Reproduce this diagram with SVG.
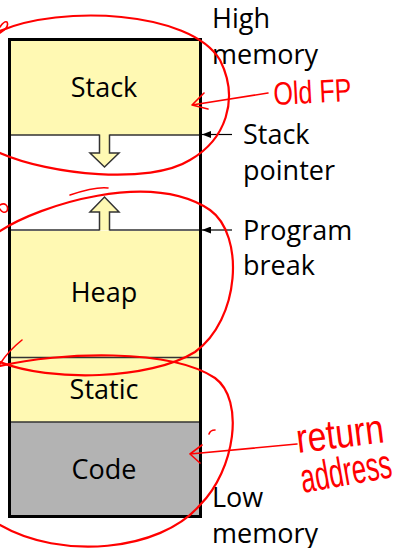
<svg xmlns="http://www.w3.org/2000/svg" width="400" height="548" viewBox="0 0 400 548">
  <style>
    .seg { stroke: none; }
    .yellow { fill: #FFF9B3; }
    .gray { fill: #B3B3B3; }
    .divider { fill: none; stroke: #333333; stroke-width: 1.5; }
    .growth { fill: #FFF9B3; stroke: #333333; stroke-width: 1.5; stroke-linejoin: miter; }
    .frame { fill: none; stroke: #000000; stroke-width: 3; }
    .lbl { font-family: "Open Sans", "Noto Sans", "DejaVu Sans", sans-serif; font-size: 27px; fill: #000000; }
    .mid { text-anchor: middle; }
    .ptr { stroke: #000000; stroke-width: 1.2; fill: none; }
    .ink { fill: none; stroke: #FF0000; stroke-width: 2.2; stroke-linecap: round; stroke-linejoin: round; }
    .ink-thin { fill: none; stroke: #FF0000; stroke-width: 1.6; stroke-linecap: round; stroke-linejoin: round; }
    .hand { font-family: "Liberation Sans", "DejaVu Sans", sans-serif; font-size: 18px; fill: #FF0000; }
  </style>
  <defs>
    <marker id="tip" markerUnits="userSpaceOnUse" markerWidth="9" markerHeight="7" refX="9" refY="3.5" orient="auto">
      <path d="M0,0 L9,3.5 L0,7 z" fill="#000000"/>
    </marker>
  </defs>

  <rect width="400" height="548" fill="#FFFFFF"/>

  <!-- memory segments -->
  <g id="stack">
    <rect class="seg yellow" x="9.5" y="39.5" width="191" height="95.5"/>
    <text class="lbl mid" x="104" y="97">Stack</text>
  </g>
  <g id="free">
    <rect class="seg" x="9.5" y="135" width="191" height="95" fill="#FFFFFF"/>
    <path class="divider" d="M9.5 135 H99.5 M109.5 135 H200.5"/>
    <path class="divider" d="M9.5 230 H99.5 M109.5 230 H200.5"/>
    <!-- stack grows down, heap grows up -->
    <path class="growth" d="M99.5 134.5 V153 H90 L104.5 167 L119 153 H109.5 V134.5"/>
    <path class="growth" d="M99.5 230.5 V212 H90 L104.5 197 L119 212 H109.5 V230.5"/>
  </g>
  <g id="heap">
    <rect class="seg yellow" x="9.5" y="231" width="191" height="126.5"/>
    <text class="lbl mid" x="104" y="301.5">Heap</text>
  </g>
  <g id="static">
    <rect class="seg yellow" x="9.5" y="357.5" width="191" height="64.5"/>
    <path class="divider" d="M9.5 357.5 H200.5"/>
    <text class="lbl mid" x="104" y="399">Static</text>
  </g>
  <g id="code">
    <rect class="seg gray" x="9.5" y="422" width="191" height="94.5"/>
    <path class="divider" d="M9.5 422 H200.5"/>
    <text class="lbl mid" x="104" y="479">Code</text>
  </g>
  <rect id="frame" class="frame" x="9.5" y="39.5" width="191" height="477"/>

  <!-- side labels -->
  <g id="high-memory">
    <text class="lbl" x="212" y="28">High</text>
    <text class="lbl" x="212" y="64">memory</text>
  </g>
  <g id="stack-pointer">
    <text class="lbl" x="243" y="144">Stack</text>
    <text class="lbl" x="243" y="180">pointer</text>
  </g>
  <g id="program-break">
    <text class="lbl" x="243" y="240">Program</text>
    <text class="lbl" x="243" y="275">break</text>
  </g>
  <g id="low-memory">
    <text class="lbl" x="212" y="507">Low</text>
    <text class="lbl" x="212" y="543">memory</text>
  </g>

  <!-- pointer connectors -->
  <g id="connectors">
    <line class="ptr" x1="232" y1="134.5" x2="202" y2="134.5" marker-end="url(#tip)"/>
    <line class="ptr" x1="232" y1="230" x2="202" y2="230" marker-end="url(#tip)"/>
  </g>

  <!-- hand-drawn notes in red -->
  <g id="notes">
    <!-- loop round the stack -->
    <path class="ink" d="M0 31 C60 5 190 10 220 60 C240 100 225 140 190 160 C150 185 50 175 0 153"/>
    <path class="ink-thin" d="M0 33 C5 30 9 26 7 22 C5 21 2 24 0 27"/>
    <!-- loop round the heap -->
    <path class="ink" d="M0 231 C40 205 150 170 210 210 C245 235 240 320 195 352 C150 380 50 382 0 362"/>
    <path class="ink-thin" d="M70 195 C85 190 100 187 108 188"/>
    <path class="ink-thin" d="M0 205 C5 202 9 206 7 211 C4 214 1 211 0 209"/>
    <path class="ink-thin" d="M22 340 C12 348 5 356 0 364"/>
    <!-- loop round static and code -->
    <path class="ink" d="M0 366 C60 352 170 348 215 378 C245 400 235 470 200 505 C160 552 60 560 0 525"/>
    <path class="ink-thin" d="M209 434 C210 431 213 430 215 430"/>

    <!-- old frame pointer -->
    <path class="ink-thin" d="M268 93 L192 105 M204 93 L192 105 L208 109"/>
    <text class="hand" textLength="78" lengthAdjust="spacingAndGlyphs" transform="translate(274 105) rotate(-3) scale(1 1.8)">Old FP</text>

    <!-- return address -->
    <path class="ink-thin" d="M297 444 L190 454 M202 445 L190 454 L200 463"/>
    <text class="hand" textLength="88" lengthAdjust="spacingAndGlyphs" transform="translate(298 453) rotate(-7) scale(1 2.3)">return</text>
    <text class="hand" textLength="92" lengthAdjust="spacingAndGlyphs" transform="translate(303 493) rotate(-10) scale(1 2.3)">address</text>
  </g>
</svg>
